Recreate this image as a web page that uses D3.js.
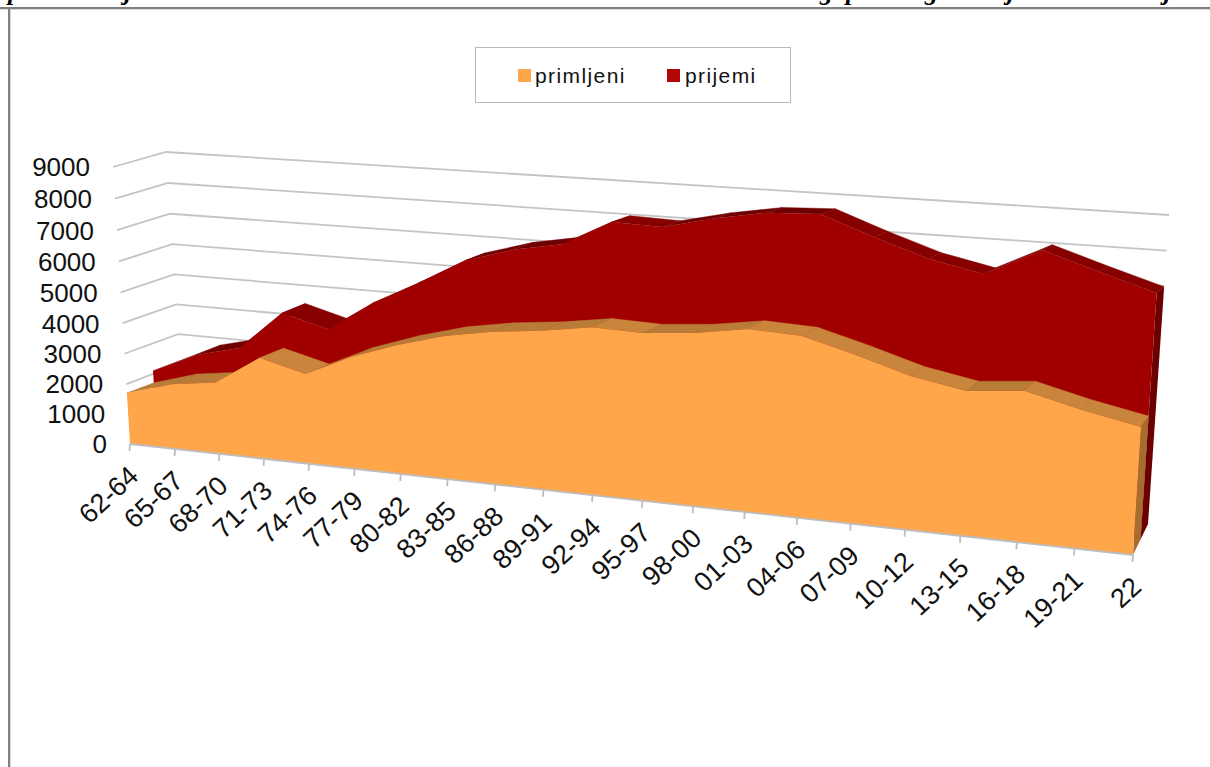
<!DOCTYPE html>
<html><head><meta charset="utf-8"><style>html,body{margin:0;background:#fff;overflow:hidden}svg{display:block}</style></head>
<body><svg id="c" width="1210" height="767"></svg>
<script src="https://d3js.org/d3.v7.min.js"></script>
<script>
const categories=["62-64","65-67","68-70","71-73","74-76","77-79","80-82","83-85","86-88","89-91","92-94","95-97","98-00","01-03","04-06","07-09","10-12","13-15","16-18","19-21","22"];
const primljeni=[1700,2140,2340,3260,2880,3550,4050,4450,4700,4850,5070,5020,5140,5370,5300,4880,4410,4120,4260,3870,3550];
const prijemi=[2100,2770,3130,4400,4000,4950,5700,6500,6930,7200,7960,7910,8250,8510,8570,8010,7500,7170,7950,7450,6980];
const valueTicks=[0,1000,2000,3000,4000,5000,6000,7000,8000,9000];
const seriesNames=["primljeni","prijemi"];
const seriesColors=["#FFA54A","#A00000"];
const topColors={o:{up:"#B97C38",down:"#C9853B"},r:{up:"#6F0000",down:"#860000"}};
const sideColors={o:"#A66E2E",r:"#6C0000"};

const svg=d3.select("#c");
const FONT="'Liberation Sans',Arial,sans-serif";
const uScale=d3.scalePoint().domain(categories).range([0,1]);
const uWarp={0:d3.scalePow().exponent(0.975).domain([0,1]).range([0,1]),0.5:d3.scalePow().exponent(0.985).domain([0,1]).range([0,1]),1:d3.scaleLinear().domain([0,1]).range([0,1])};
const vScale=d3.scaleLinear().domain([0,9000]).range([0,1]);

// perspective frame of the 3-D plot: quad = [u0v0,u1v0,u1v1,u0v1]
const frontQuad=[[130,444],[1133,555],[1154,222],[113,167]];
const backQuad=[[184,422],[1148,524],[1169,215],[166,152]];
function hom(p){const [p0,p1,p2,p3]=p;const dx1=p1[0]-p2[0],dx2=p3[0]-p2[0],sx=p0[0]-p1[0]+p2[0]-p3[0],dy1=p1[1]-p2[1],dy2=p3[1]-p2[1],sy=p0[1]-p1[1]+p2[1]-p3[1];const den=dx1*dy2-dx2*dy1,g=(sx*dy2-dx2*sy)/den,h=(dx1*sy-sx*dy1)/den;return {a:p1[0]-p0[0]+g*p1[0],b:p3[0]-p0[0]+h*p3[0],c:p0[0],d:p1[1]-p0[1]+g*p1[1],e:p3[1]-p0[1]+h*p3[1],f:p0[1],g,h};}
function homAt(z){return hom(frontQuad.map((p,i)=>[p[0]+(backQuad[i][0]-p[0])*z,p[1]+(backQuad[i][1]-p[1])*z]));}
const H={0:homAt(0),0.5:homAt(0.5),1:homAt(1)};
function P(cat,val,z){const s=uWarp[z](uScale(cat)),t=vScale(val),m=H[z],w=m.g*s+m.h*t+1;return [(m.a*s+m.b*t+m.c)/w,(m.d*s+m.e*t+m.f)/w];}
const line=d3.line();
const poly=pts=>line(pts)+"Z";

// title, clipped by the top of the window
const title=svg.append("text").attr("y",0).attr("font-family","'Liberation Serif',serif").attr("font-size",26).attr("font-weight","bold").attr("font-style","italic").attr("fill","#000");
[[8,"pri stvaranju članstva u matičnom društvu kroz šest minulih desetina"],[820,"g. po red"],[925,"godina"],[1007,"je"],[1040,"ukrštena"],[1150,"i ja"]].forEach(d=>title.append("tspan").attr("x",d[0]).text(d[1]));

// outer frame
svg.append("rect").attr("x",0).attr("y",7).attr("width",1210).attr("height",2).attr("fill","#808080");
svg.append("rect").attr("x",0).attr("y",9).attr("width",1210).attr("height",1).attr("fill","#d8d8d8");
svg.append("rect").attr("x",8).attr("y",7).attr("width",2).attr("height",760).attr("fill","#808080");
svg.append("rect").attr("x",10).attr("y",9).attr("width",1).attr("height",758).attr("fill","#d8d8d8");

// legend
svg.append("rect").attr("x",475.5).attr("y",47.5).attr("width",315).attr("height",55).attr("fill","#fff").attr("stroke","#b8b8b8").attr("stroke-width",1);
const legend=[{x:518,tx:535},{x:667,tx:685}];
legend.forEach((l,i)=>{
 svg.append("rect").attr("x",l.x).attr("y",69).attr("width",13).attr("height",13).attr("fill",i?"#B00606":seriesColors[i]);
 svg.append("text").attr("x",l.tx).attr("y",83).attr("font-family",FONT).attr("font-size",21).attr("letter-spacing",1.4).attr("fill","#111").text(seriesNames[i]);
});

// walls
const first=categories[0],last=categories[categories.length-1];
const grid=svg.append("g").attr("fill","none").attr("stroke","#c4c4c4").attr("stroke-width",1.8);
valueTicks.forEach(v=>{grid.append("path").attr("d",line([P(first,v,0),P(first,v,1),P(last,v,1)]));});

// value labels
valueTicks.forEach(v=>{const p=P(first,v,0);
 svg.append("text").attr("x",p[0]-23).attr("y",p[1]).attr("dy","0.36em").attr("text-anchor","end").attr("font-family",FONT).attr("font-size",26).attr("fill","#111").text(d3.format("d")(v));});

function ribbon(vals,z0,z1,cols,side,front){
 const g=svg.append("g");
 for(let i=0;i<vals.length-1;i++){
  const a=categories[i],b=categories[i+1];
  const pts=[P(a,vals[i],z0),P(b,vals[i+1],z0),P(b,vals[i+1],z1),P(a,vals[i],z1)];
  const c=vals[i+1]>vals[i]?cols.up:cols.down;
  g.append("path").attr("d",poly(pts)).attr("fill",c).attr("stroke",c).attr("stroke-width",0.4);
 }
 const n=vals.length-1;
 g.append("path").attr("d",poly([P(last,0,z0),P(last,vals[n],z0),P(last,vals[n],z1),P(last,0,z1)])).attr("fill",side);
 const outline=categories.map((c,i)=>P(c,vals[i],z0)).concat([P(last,0,z0),P(first,0,z0)]);
 g.append("path").attr("d",poly(outline)).attr("fill",front);
}
ribbon(prijemi,0.5,1,topColors.r,sideColors.r,seriesColors[1]);
ribbon(primljeni,0,0.5,topColors.o,sideColors.o,seriesColors[0]);

// category axis
svg.append("path").attr("d",line([P(first,0,0),P(last,0,0)])).attr("fill","none").attr("stroke","#bdbdbd").attr("stroke-width",1.8);
categories.forEach(c=>{const p=P(c,0,0);
 svg.append("line").attr("x1",p[0]).attr("y1",p[1]).attr("x2",p[0]-0.5).attr("y2",p[1]+7).attr("stroke","#bdbdbd").attr("stroke-width",1.8);
 svg.append("text").attr("transform",`translate(${p[0]+10},${p[1]+34}) rotate(-43)`).attr("text-anchor","end").attr("font-family",FONT).attr("font-size",27).attr("fill","#111").text(c);
});
</script></body></html>
